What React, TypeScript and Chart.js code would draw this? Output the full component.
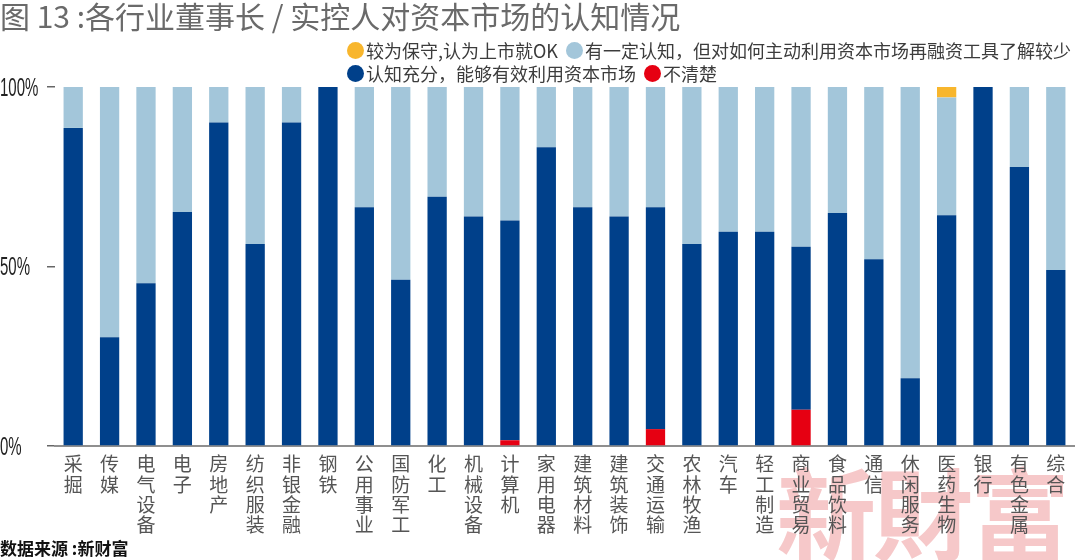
import React, { useEffect, useRef } from "react";
import { Chart, registerables } from "chart.js";

Chart.register(...registerables);

const categories = [
  "采掘", "传媒", "电气设备", "电子", "房地产", "纺织服装", "非银金融", "钢铁",
  "公用事业", "国防军工", "化工", "机械设备", "计算机", "家用电器", "建筑材料", "建筑装饰",
  "交通运输", "农林牧渔", "汽车", "轻工制造", "商业贸易", "食品饮料", "通信", "休闲服务",
  "医药生物", "银行", "有色金属", "综合",
];

// 不清楚
const unclear = [0, 0, 0, 0, 0, 0, 0, 0, 0, 0, 0, 0, 1.6, 0, 0, 0, 4.7, 0, 0, 0, 10.1, 0, 0, 0, 0, 0, 0, 0];
// 认知充分，能够有效利用资本市场
const full = [88.6, 30.3, 45.3, 65.2, 90.1, 56.3, 90.1, 100, 66.5, 46.3, 69.4, 63.9, 61.2, 83.2, 66.5, 63.9, 61.8, 56.3, 59.7, 59.7, 45.4, 64.9, 52.0, 18.9, 64.3, 100, 77.7, 49.0];
// 有一定认知，但对如何主动利用资本市场再融资工具了解较少
const some = [11.4, 69.7, 54.7, 34.8, 9.9, 43.7, 9.9, 0, 33.5, 53.7, 30.6, 36.1, 37.2, 16.8, 33.5, 36.1, 33.5, 43.7, 40.3, 40.3, 44.5, 35.1, 48.0, 81.1, 32.8, 0, 22.3, 51.0];
// 较为保守,认为上市就OK
const conservative = [0, 0, 0, 0, 0, 0, 0, 0, 0, 0, 0, 0, 0, 0, 0, 0, 0, 0, 0, 0, 0, 0, 0, 0, 2.9, 0, 0, 0];

const yTicks = [0, 50, 100];

const seriesNames = {
  conservative: "较为保守,认为上市就OK",
  some: "有一定认知，但对如何主动利用资本市场再融资工具了解较少",
  full: "认知充分，能够有效利用资本市场",
  unclear: "不清楚",
};

const COLORS = {
  conservative: "#F8B62D",
  some: "#A3C6DA",
  full: "#00408A",
  unclear: "#E60012",
};

const CJK = '"Noto Sans CJK SC", "Noto Sans", sans-serif';

// Draws the y tick labels in a condensed style (horizontally squeezed), at the scale's own tick positions
const condensedYLabels = {
  id: "condensedYLabels",
  afterDraw(chart: any) {
    const scale = chart.scales.y;
    const ctx = chart.ctx;
    ctx.save();
    ctx.fillStyle = "#222222";
    ctx.font = '25px "Liberation Sans", sans-serif';
    ctx.textBaseline = "middle";
    ctx.textAlign = "left";
    scale.ticks.forEach((t: any) => {
      const y = scale.getPixelForValue(t.value);
      ctx.save();
      ctx.translate(0, y + 2);
      ctx.scale(0.6, 1);
      ctx.fillText(t.value + "%", 0, 0);
      ctx.restore();
    });
    ctx.restore();
  },
};

function Dot({ color }: { color: string }) {
  return (
    <span
      style={{
        display: "inline-block",
        width: 17,
        height: 17,
        borderRadius: "50%",
        background: color,
        marginRight: 2,
        verticalAlign: "middle",
      }}
    />
  );
}

export default function App() {
  const ref = useRef<HTMLCanvasElement | null>(null);

  useEffect(() => {
    if (!ref.current) return;
    const chart = new Chart(ref.current, {
      type: "bar",
      data: {
        labels: categories.map((c) => c.split("")),
        datasets: [
          { label: seriesNames.unclear, data: unclear, backgroundColor: COLORS.unclear },
          { label: seriesNames.full, data: full, backgroundColor: COLORS.full },
          { label: seriesNames.some, data: some, backgroundColor: COLORS.some },
          { label: seriesNames.conservative, data: conservative, backgroundColor: COLORS.conservative },
        ],
      },
      options: {
        animation: false,
        responsive: false,
        maintainAspectRatio: false,
        layout: { padding: { top: 87, right: 6, bottom: 0, left: 0 } },
        datasets: {
          bar: { barPercentage: 0.53, categoryPercentage: 1, borderWidth: 0 },
        },
        plugins: {
          legend: { display: false },
          title: { display: false },
          tooltip: { enabled: false },
        },
        scales: {
          x: {
            stacked: true,
            grid: { display: false, drawTicks: false },
            border: { display: true, color: "#8f8f8f", width: 2 },
            ticks: {
              autoSkip: false,
              maxRotation: 0,
              minRotation: 0,
              padding: 8,
              color: "#555555",
              font: { family: CJK, size: 19, lineHeight: 1.07 },
            },
            afterFit: (scale: any) => {
              scale.height = 114;
            },
          },
          y: {
            stacked: true,
            min: 0,
            max: 100,
            afterBuildTicks: (scale: any) => {
              scale.ticks = yTicks.map((v) => ({ value: v }));
            },
            grid: {
              drawOnChartArea: false,
              drawTicks: true,
              tickLength: 8,
              color: "#666666",
              lineWidth: 1.5,
            },
            border: { display: false },
            ticks: { display: false },
            afterFit: (scale: any) => {
              scale.width = 55;
            },
          },
        },
      } as any,
      plugins: [condensedYLabels],
    });
    return () => chart.destroy();
  }, []);

  const legendRow: React.CSSProperties = {
    position: "absolute",
    left: 347,
    display: "flex",
    alignItems: "center",
    gap: 8,
    fontFamily: CJK,
    fontSize: 18,
    color: "#3c3c3c",
    whiteSpace: "nowrap",
    lineHeight: "22px",
  };

  return (
    <div
      style={{
        position: "absolute",
        left: 0,
        top: 0,
        width: 1080,
        height: 560,
        overflow: "hidden",
        background: "#ffffff",
      }}
    >
      <div
        style={{
          position: "absolute",
          left: 776,
          top: 450,
          fontFamily: '"Noto Sans CJK TC", "Noto Sans CJK SC", sans-serif',
          fontWeight: 700,
          fontSize: 100,
          lineHeight: "120px",
          color: "#F6C8C9",
          letterSpacing: -3,
          whiteSpace: "nowrap",
        }}
      >
        新財富
      </div>
      <canvas
        ref={ref}
        width={1080}
        height={560}
        style={{ position: "absolute", left: 0, top: 0, width: 1080, height: 560 }}
      />
      <div
        style={{
          position: "absolute",
          left: 0,
          top: -3,
          fontFamily: CJK,
          fontSize: 30,
          lineHeight: "36px",
          color: "#6a6a6a",
          whiteSpace: "nowrap",
        }}
      >
        图 13 :各行业董事长 / 实控人对资本市场的认知情况
      </div>
      <div style={{ ...legendRow, top: 36 }}>
        <span>
          <Dot color={COLORS.conservative} />
          <span style={{ verticalAlign: "middle" }}>{seriesNames.conservative}</span>
        </span>
        <span>
          <Dot color={COLORS.some} />
          <span style={{ verticalAlign: "middle" }}>{seriesNames.some}</span>
        </span>
      </div>
      <div style={{ ...legendRow, top: 59 }}>
        <span>
          <Dot color={COLORS.full} />
          <span style={{ verticalAlign: "middle" }}>{seriesNames.full}</span>
        </span>
        <span>
          <Dot color={COLORS.unclear} />
          <span style={{ verticalAlign: "middle" }}>{seriesNames.unclear}</span>
        </span>
      </div>
      <div
        style={{
          position: "absolute",
          left: 0,
          top: 537,
          fontFamily: CJK,
          fontWeight: 700,
          fontSize: 17,
          lineHeight: "22px",
          color: "#111111",
          whiteSpace: "nowrap",
        }}
      >
        数据来源 :新财富
      </div>
    </div>
  );
}
